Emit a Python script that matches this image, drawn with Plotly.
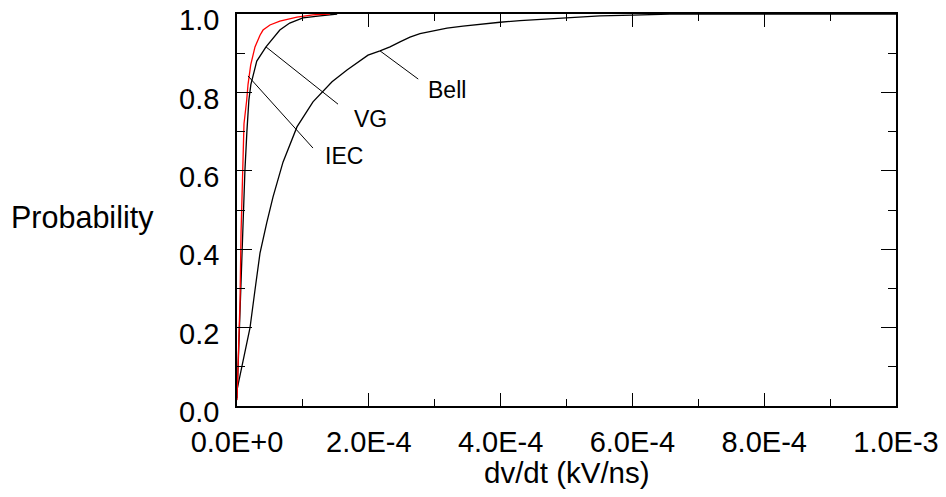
import plotly.graph_objects as go

# ---- data (x in kV/ns, y = cumulative probability) ----
iec_x = [0, 1.5e-6, 4.6e-6, 6.1e-6, 8.6e-6, 1.06e-5, 1.47e-5, 1.67e-5, 2.08e-5, 2.73e-5,
         3.49e-5, 3.95e-5, 5.0e-5, 6.5e-5, 9.1e-5, 1.15e-4, 1.41e-4]
iec_y = [0.015, 0.10, 0.27, 0.44, 0.61, 0.72, 0.78, 0.82, 0.87, 0.916,
         0.946, 0.959, 0.972, 0.982, 0.992, 0.998, 1.0]

vg_x = [0, 3e-6, 6e-6, 9e-6, 1.2e-5, 1.5e-5, 1.8e-5, 2.1e-5, 3.0e-5, 4.4e-5,
        5.5e-5, 6.5e-5, 8.0e-5, 1.0e-4, 1.26e-4, 1.52e-4]
vg_y = [0.02, 0.168, 0.32, 0.47, 0.60, 0.70, 0.78, 0.82, 0.88, 0.916,
        0.939, 0.959, 0.977, 0.990, 0.995, 1.0]

bell_x = [0, 9.6e-6, 1.97e-5, 2.73e-5, 3.49e-5, 4.51e-5, 5.46e-5, 6.98e-5, 9.10e-5,
          1.153e-4, 1.442e-4, 1.669e-4, 1.821e-4, 1.988e-4, 2.170e-4, 2.322e-4,
          2.473e-4, 2.625e-4, 2.777e-4, 2.974e-4, 3.187e-4, 3.429e-4, 3.687e-4,
          3.991e-4, 4.294e-4, 4.598e-4, 5.008e-4, 5.508e-4, 6.009e-4, 6.570e-4, 1.0e-3]
bell_y = [0.041, 0.117, 0.199, 0.296, 0.390, 0.467, 0.533, 0.622, 0.712,
          0.776, 0.827, 0.857, 0.875, 0.895, 0.906, 0.916,
          0.929, 0.941, 0.950, 0.957, 0.964, 0.969, 0.974,
          0.979, 0.983, 0.986, 0.990, 0.995, 0.997, 1.0, 1.0]

x_tickvals = [0, 2e-4, 4e-4, 6e-4, 8e-4, 1e-3]
x_ticktext = ["0.0E+0", "2.0E-4", "4.0E-4", "6.0E-4", "8.0E-4", "1.0E-3"]
y_tickvals = [0, 0.2, 0.4, 0.6, 0.8, 1.0]

# labels: (text, curve point x, y, line end x, y, text x, y)
labels = [
    ("IEC", 1.67e-5, 0.842, 1.153e-4, 0.658, 1.305e-4, 0.638),
    ("VG", 4.4e-5, 0.916, 1.533e-4, 0.770, 1.745e-4, 0.733),
    ("Bell", 2.17e-4, 0.906, 2.75e-4, 0.834, 2.87e-4, 0.807),
]

FONT = "Liberation Sans, Arial, sans-serif"

fig = go.Figure()
fig.add_trace(go.Scatter(x=bell_x, y=bell_y, mode="lines",
                         line=dict(color="black", width=1.3), name="Bell"))
fig.add_trace(go.Scatter(x=vg_x, y=vg_y, mode="lines",
                         line=dict(color="black", width=1.3), name="VG"))
fig.add_trace(go.Scatter(x=iec_x, y=iec_y, mode="lines",
                         line=dict(color="red", width=1.3), name="IEC"))

for text, x0, y0, x1, y1, tx, ty in labels:
    fig.add_shape(type="line", x0=x0, y0=y0, x1=x1, y1=y1,
                  line=dict(color="black", width=1))
    fig.add_annotation(x=tx, y=ty, text=text, showarrow=False,
                       xanchor="left", yanchor="middle",
                       font=dict(size=23, color="black", family=FONT))

fig.add_annotation(x=0, y=0.48, xref="paper", yref="paper", text="Probability",
                   showarrow=False, xanchor="left", yanchor="middle", xshift=-228,
                   font=dict(size=30.5, color="black", family=FONT))
fig.add_annotation(x=0.5, y=0, xref="paper", yref="paper", text="dv/dt (kV/ns)",
                   showarrow=False, xanchor="center", yanchor="middle", yshift=-66,
                   font=dict(size=29.5, color="black", family=FONT))

fig.update_layout(
    width=946, height=497,
    margin=dict(l=237, r=50, t=14, b=91, autoexpand=False),
    paper_bgcolor="white", plot_bgcolor="white",
    showlegend=False,
    font=dict(family=FONT, size=29, color="black"),
)
fig.update_xaxes(
    range=[0, 1e-3], tickvals=x_tickvals, ticktext=x_ticktext, automargin=False,
    showgrid=False, zeroline=False, showline=True, linecolor="black", linewidth=1.5,
    mirror="allticks", ticks="inside", ticklen=13, tickwidth=1.2, tickcolor="black",
    minor=dict(dtick=1e-4, tick0=0, ticks="inside", ticklen=7, tickwidth=1.2, tickcolor="black"),
    tickfont=dict(size=29), ticklabelstandoff=9, ticklabeloverflow="allow",
)
fig.update_yaxes(
    range=[0, 1], tickvals=y_tickvals, tickformat=".1f", automargin=False,
    showgrid=False, zeroline=False, showline=True, linecolor="black", linewidth=1.5,
    mirror="allticks", ticks="inside", ticklen=15, tickwidth=1.2, tickcolor="black",
    minor=dict(dtick=0.1, tick0=0, ticks="inside", ticklen=8, tickwidth=1.2, tickcolor="black"),
    tickfont=dict(size=29), ticklabelstandoff=10, ticklabelshift=6,
    ticklabeloverflow="allow",
)

fig.write_html("out.html")
